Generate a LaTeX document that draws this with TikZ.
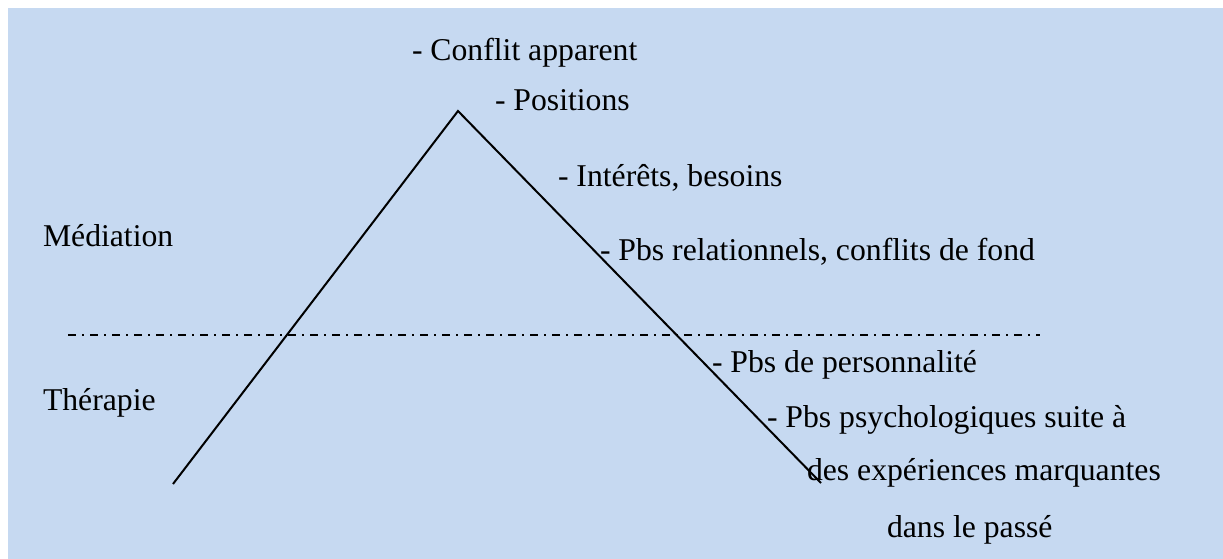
\documentclass[tikz,border=0pt]{standalone}
\usepackage{fontspec}
\setmainfont{Liberation Serif}
\definecolor{panelblue}{HTML}{C6D9F1}
\begin{document}
\begin{tikzpicture}[x=1pt,y=-1pt,
  lbl/.style={anchor=base west,inner sep=0pt,outer sep=0pt,
    font=\fontsize{31.7}{38}\selectfont,text=black},
  slope/.style={line width=2pt,black},
  divider/.style={line width=1.4pt,black,
    dash pattern=on 8pt off 6pt on 1.5pt off 6.5pt}]
  \useasboundingbox (0,0) rectangle (1223,559);
  \fill[white] (0,0) rectangle (1223,559);
  \fill[panelblue] (8,8) rectangle (1223,559);

  % labels
  \node[lbl] (conflit) at (412,61) {- Conflit apparent};
  \node[lbl] (positions) at (495,111) {- Positions};
  \node[lbl] (interets) at (558,186) {- Intérêts, besoins};
  \node[lbl] (relation) at (600,260) {- Pbs relationnels, conflits de fond};
  \node[lbl] (mediation) at (43,246) {Médiation};
  \node[lbl] (therapie) at (43,410) {Thérapie};
  \node[lbl] (perso) at (712,372) {- Pbs de personnalité};
  \node[lbl] (psycho1) at (767,427) {- Pbs psychologiques suite à};
  \node[lbl] (psycho2) at (807,480) {des expériences marquantes};
  \node[lbl] (psycho3) at (887,537) {dans le passé};

  % mountain profile
  \coordinate (peak) at (458,111);
  \coordinate (leftfoot) at (173,484);
  \coordinate (rightfoot) at (821,483);
  \draw[slope] (leftfoot) -- (peak) -- (rightfoot);

  % boundary between mediation and therapy
  \coordinate (divA) at (68,335);
  \coordinate (divB) at (1040,335);
  \draw[divider] (divA) -- (divB);
\end{tikzpicture}
\end{document}
